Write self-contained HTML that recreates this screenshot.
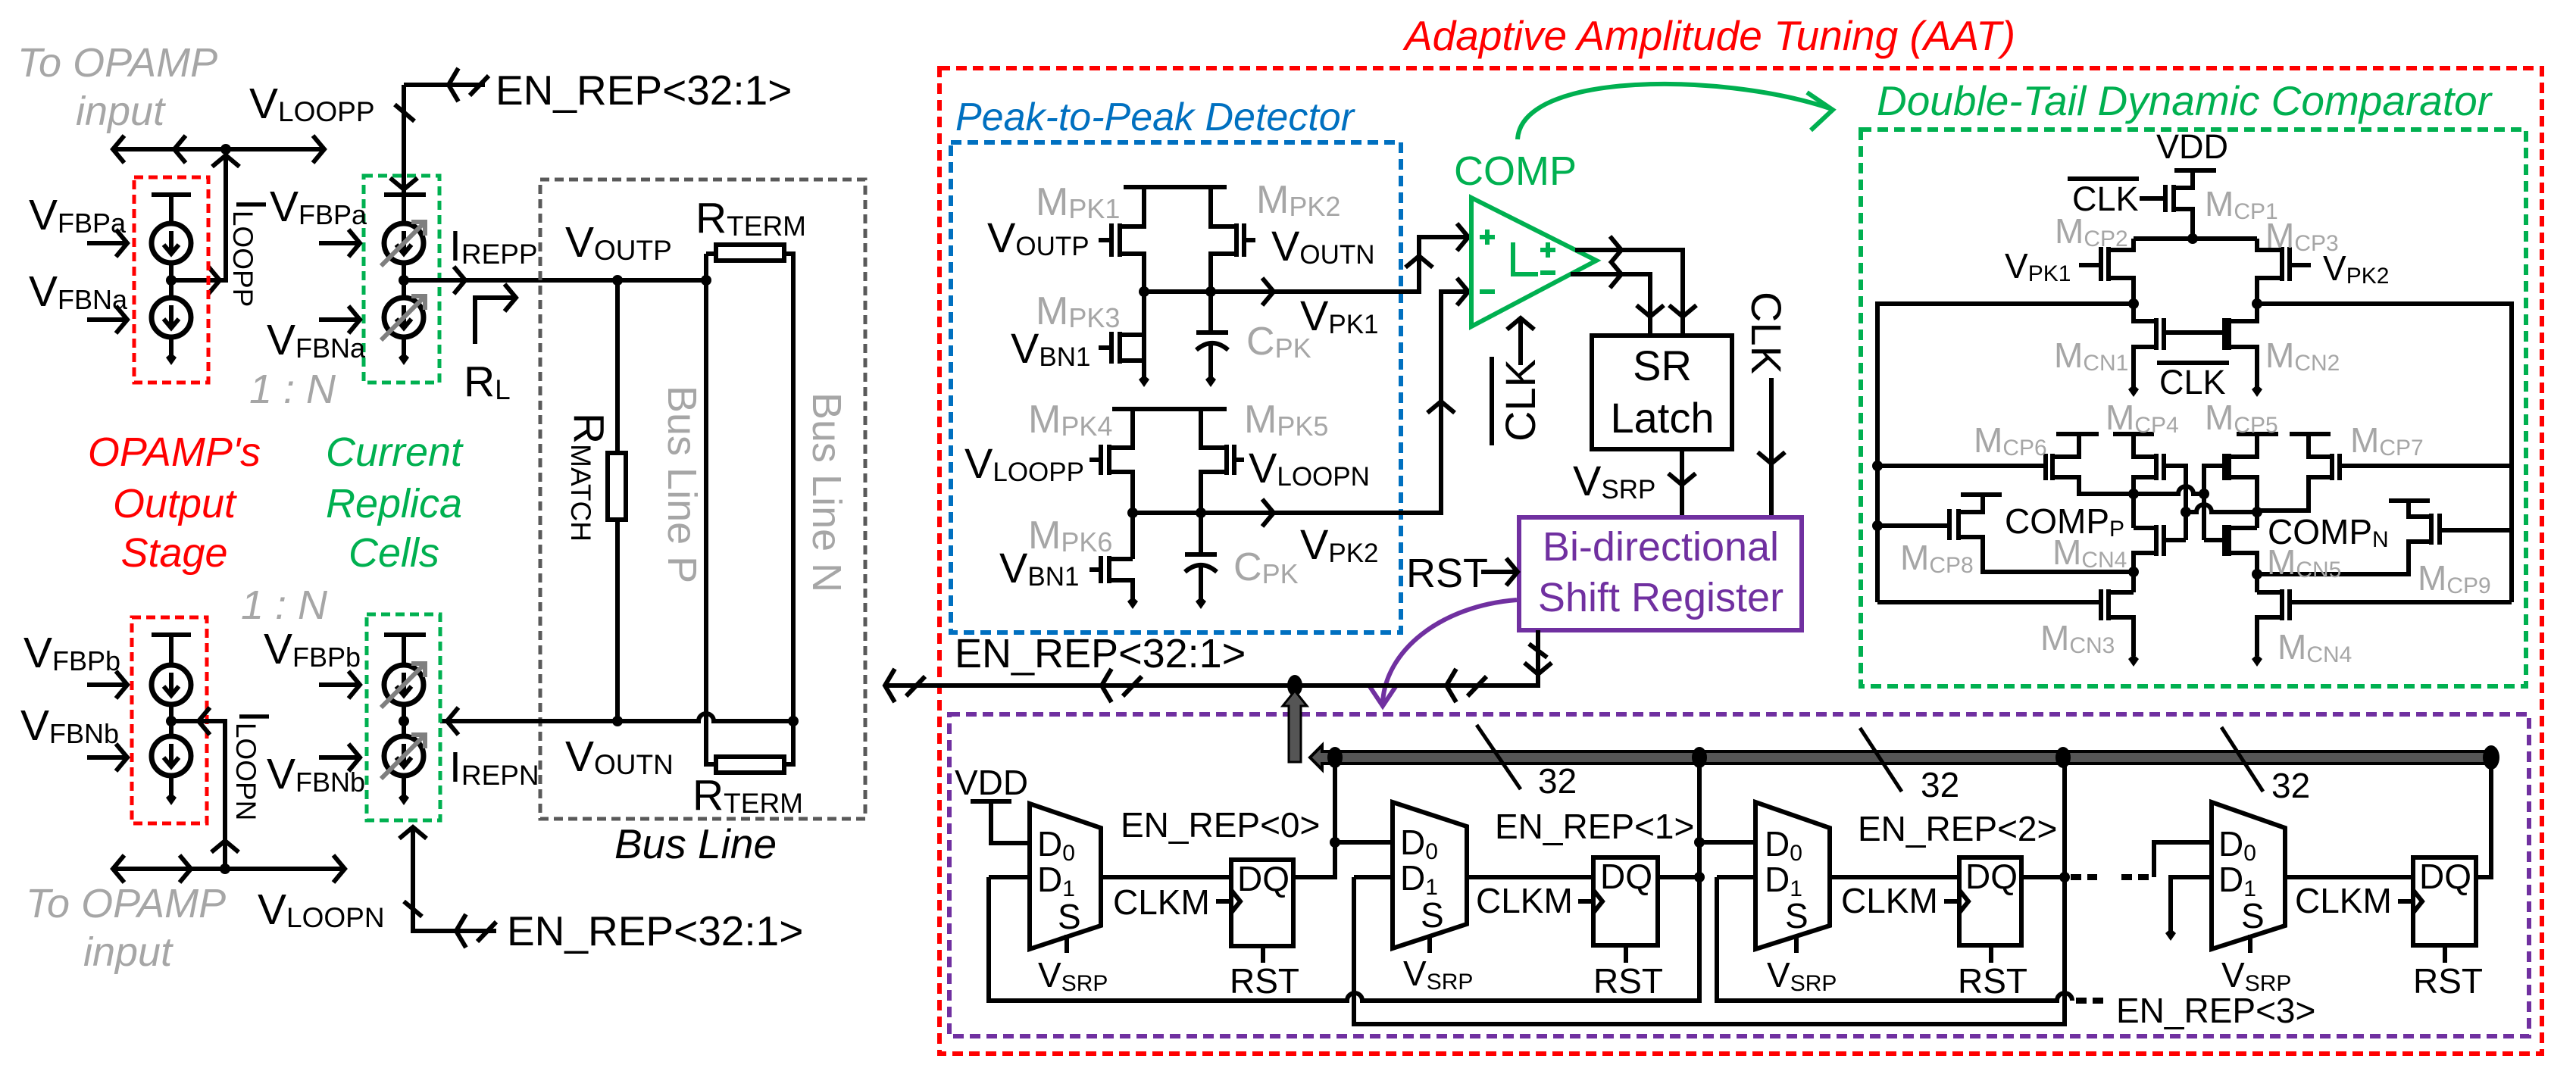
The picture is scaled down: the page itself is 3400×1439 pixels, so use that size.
<!DOCTYPE html>
<html><head><meta charset="utf-8"><style>
html,body{margin:0;padding:0;background:#fff;}
svg{display:block;}
text{font-family:"Liberation Sans",Arial,sans-serif;fill:#000;}
.w{stroke:#000;stroke-width:6;fill:none;}
.it{font-style:italic;}
.g{fill:#a6a6a6;}
</style></head><body>
<svg width="3400" height="1439" viewBox="0 0 3400 1439" xmlns="http://www.w3.org/2000/svg">
<defs>
<g id="cr"><path d="M-15,-18L0,0L-15,18" fill="none" stroke="#000" stroke-width="6"/></g>
<g id="bus"><path d="M-13,-22L0,0L-13,22M-28,-14L-53,12" fill="none" stroke="#000" stroke-width="6"/></g>
<g id="gnd"><path d="M0,8L-7,-2L0,-8L7,-2Z" fill="#000"/></g>
<g id="cs"><circle r="26" fill="none" stroke="#000" stroke-width="7"/><path d="M0,-16V14M-10,2L0,14L10,2" fill="none" stroke="#000" stroke-width="6"/></g>
<g id="csg"><circle r="26" fill="none" stroke="#000" stroke-width="7"/><path d="M0,-16V14M-10,2L0,14L10,2" fill="none" stroke="#000" stroke-width="6"/><path d="M-30,30L26,-26M10,-28L28,-28L28,-10" fill="none" stroke="#7f7f7f" stroke-width="6"/></g>
</defs>

<!-- ================= LEFT SECTION ================= -->
<text x="23" y="101" font-size="54" class="it g">To OPAMP</text>
<text x="100" y="165" font-size="54" class="it g">input</text>
<text x="329" y="156" font-size="57">V<tspan font-size="37" dy="4">LOOPP</tspan></text>
<path class="w" d="M149,197H428M298,197V370H226"/>
<circle cx="298" cy="197" r="7"/>
<use href="#cr" transform="translate(149,197) rotate(180)"/>
<use href="#cr" transform="translate(230,197) rotate(180)"/>
<use href="#cr" transform="translate(428,197)"/>
<use href="#cr" transform="translate(298,205) rotate(-90)"/>
<use href="#cr" transform="translate(290,370)"/>
<rect x="177" y="234" width="98" height="271" fill="none" stroke="#ff0000" stroke-width="5" stroke-dasharray="12 7"/>
<path class="w" d="M200,257H252M226,257V295M226,347V393M226,445V470"/>
<use href="#cs" transform="translate(226,321)"/><use href="#cs" transform="translate(226,419)"/>
<circle cx="226" cy="370" r="7"/><use href="#gnd" transform="translate(226,474)"/>
<text x="38" y="303" font-size="57">V<tspan font-size="36" dy="4">FBPa</tspan></text>
<text x="38" y="404" font-size="57">V<tspan font-size="36" dy="4">FBNa</tspan></text>
<path class="w" d="M115,321H166M115,422H166"/>
<use href="#cr" transform="translate(168,321)"/><use href="#cr" transform="translate(168,422)"/>
<text font-size="57" transform="translate(312,262) rotate(90)">I<tspan font-size="37" dy="4">LOOPP</tspan></text>

<!-- green top cell -->
<rect x="480" y="232" width="100" height="273" fill="none" stroke="#00b050" stroke-width="5" stroke-dasharray="12 7"/>
<path class="w" d="M507,257H562M533,112V257M533,257V295M533,347V393M533,445V470M533,112H640M521,138L547,160"/>
<use href="#cr" transform="translate(533,250) rotate(90)"/>
<use href="#bus" transform="translate(592,112) rotate(180)"/>
<use href="#csg" transform="translate(533,321)"/><use href="#csg" transform="translate(533,419)"/>
<circle cx="533" cy="370" r="7"/><use href="#gnd" transform="translate(533,474)"/>
<text x="654" y="138" font-size="55">EN_REP&lt;32:1&gt;</text>
<text x="356" y="292" font-size="57">V<tspan font-size="36" dy="4">FBPa</tspan></text>
<text x="352" y="468" font-size="57">V<tspan font-size="36" dy="4">FBNa</tspan></text>
<path class="w" d="M421,321H473M421,422H473"/>
<use href="#cr" transform="translate(475,321)"/><use href="#cr" transform="translate(475,422)"/>
<text x="593" y="344" font-size="57">I<tspan font-size="37" dy="4">REPP</tspan></text>
<path class="w" d="M533,370H932"/>
<use href="#cr" transform="translate(614,370)"/>
<path class="w" d="M627,454V393H679"/><use href="#cr" transform="translate(681,393)"/>
<text x="612" y="523" font-size="57">R<tspan font-size="37" dy="4">L</tspan></text>
<text x="329" y="532" font-size="54" class="it g">1 : N</text>

<text x="230" y="615" font-size="54" class="it" style="fill:#ff0000" text-anchor="middle">OPAMP's</text>
<text x="230" y="683" font-size="54" class="it" style="fill:#ff0000" text-anchor="middle">Output</text>
<text x="230" y="748" font-size="54" class="it" style="fill:#ff0000" text-anchor="middle">Stage</text>
<text x="520" y="615" font-size="54" class="it" style="fill:#00b050" text-anchor="middle">Current</text>
<text x="520" y="683" font-size="54" class="it" style="fill:#00b050" text-anchor="middle">Replica</text>
<text x="520" y="748" font-size="54" class="it" style="fill:#00b050" text-anchor="middle">Cells</text>
<text x="318" y="817" font-size="54" class="it g">1 : N</text>

<!-- bus line box -->
<rect x="713" y="237" width="429" height="844" fill="none" stroke="#595959" stroke-width="5" stroke-dasharray="12 7"/>
<text x="746" y="339" font-size="57">V<tspan font-size="37" dy="4">OUTP</tspan></text>
<text x="918" y="307" font-size="57">R<tspan font-size="37" dy="4">TERM</tspan></text>
<path class="w" d="M815,370V598M815,686V952M932,335V1009H945M932,335H945M1035,335H1047V1009H1035"/>
<rect x="802" y="598" width="24" height="88" fill="none" stroke="#000" stroke-width="6"/>
<rect x="945" y="323" width="90" height="21" fill="none" stroke="#000" stroke-width="6"/>
<rect x="945" y="999" width="90" height="21" fill="none" stroke="#000" stroke-width="6"/>
<path class="w" d="M581,952H922A10,10 0 0 1 942,952H1047"/>
<circle cx="815" cy="370" r="7"/><circle cx="932" cy="370" r="7"/><circle cx="815" cy="952" r="7"/><circle cx="1047" cy="952" r="7"/>
<text font-size="57" transform="translate(758,545) rotate(90)">R<tspan font-size="37" dy="4">MATCH</tspan></text>
<text font-size="54" class="g" transform="translate(882,509) rotate(90)">Bus Line P</text>
<text font-size="54" class="g" transform="translate(1073,518) rotate(90)">Bus Line N</text>
<text x="746" y="1018" font-size="57">V<tspan font-size="37" dy="4">OUTN</tspan></text>
<text x="593" y="1032" font-size="57">I<tspan font-size="37" dy="4">REPN</tspan></text>
<text x="914" y="1069" font-size="57">R<tspan font-size="37" dy="4">TERM</tspan></text>
<text x="811" y="1133" font-size="55" class="it">Bus Line</text>
<use href="#cr" transform="translate(590,952) rotate(180)"/>

<!-- bottom left -->
<rect x="174" y="815" width="99" height="272" fill="none" stroke="#ff0000" stroke-width="5" stroke-dasharray="12 7"/>
<path class="w" d="M200,838H252M226,838V878M226,930V972M226,1024V1050"/>
<use href="#cs" transform="translate(226,904)"/><use href="#cs" transform="translate(226,998)"/>
<circle cx="226" cy="952" r="7"/><use href="#gnd" transform="translate(226,1055)"/>
<text x="31" y="881" font-size="57">V<tspan font-size="36" dy="4">FBPb</tspan></text>
<text x="27" y="977" font-size="57">V<tspan font-size="36" dy="4">FBNb</tspan></text>
<path class="w" d="M115,904H166M115,1000H166"/>
<use href="#cr" transform="translate(168,904)"/><use href="#cr" transform="translate(168,1000)"/>
<path class="w" d="M226,952H297V1147M149,1147H455"/>
<circle cx="297" cy="1147" r="7"/>
<use href="#cr" transform="translate(262,952) rotate(180)"/>
<use href="#cr" transform="translate(297,1110) rotate(-90)"/>
<use href="#cr" transform="translate(149,1147) rotate(180)"/>
<use href="#cr" transform="translate(252,1147)"/>
<use href="#cr" transform="translate(455,1147)"/>
<text font-size="57" transform="translate(316,938) rotate(90)">I<tspan font-size="37" dy="4">LOOPN</tspan></text>
<text x="340" y="1220" font-size="57">V<tspan font-size="37" dy="4">LOOPN</tspan></text>
<text x="34" y="1211" font-size="54" class="it g">To OPAMP</text>
<text x="110" y="1275" font-size="54" class="it g">input</text>

<rect x="484" y="811" width="97" height="272" fill="none" stroke="#00b050" stroke-width="5" stroke-dasharray="12 7"/>
<path class="w" d="M507,838H562M533,838V878M533,930V972M533,1024V1050"/>
<use href="#csg" transform="translate(533,904)"/><use href="#csg" transform="translate(533,998)"/>
<circle cx="533" cy="952" r="7"/><use href="#gnd" transform="translate(533,1055)"/>
<text x="348" y="876" font-size="57">V<tspan font-size="36" dy="4">FBPb</tspan></text>
<text x="352" y="1041" font-size="57">V<tspan font-size="36" dy="4">FBNb</tspan></text>
<path class="w" d="M421,904H473M421,1000H473"/>
<use href="#cr" transform="translate(475,904)"/><use href="#cr" transform="translate(475,1000)"/>
<path class="w" d="M545,1095V1229H655M533,1190L557,1210"/>
<use href="#cr" transform="translate(545,1092) rotate(-90)"/>
<use href="#bus" transform="translate(602,1229) rotate(180)"/>
<text x="669" y="1248" font-size="55">EN_REP&lt;32:1&gt;</text>

<!-- ================= AAT ================= -->
<text x="1854" y="66" font-size="55" class="it" style="fill:#ff0000">Adaptive Amplitude Tuning (AAT)</text>
<rect x="1240" y="90" width="2115" height="1301" fill="none" stroke="#ff0000" stroke-width="6" stroke-dasharray="14 8"/>
<text x="1261" y="172" font-size="52" class="it" style="fill:#0070c0">Peak-to-Peak Detector</text>
<rect x="1255" y="188" width="594" height="647" fill="none" stroke="#0070c0" stroke-width="6" stroke-dasharray="14 8"/>

<!-- peak detector transistors -->
<path class="w" d="M1483,247H1619
M1510,247V299H1478M1478,295V339M1478,335H1510V476M1467,295V339M1467,317H1450
M1598,247V299H1632M1632,295V339M1632,335H1598V439M1642,295V339M1642,317H1657
M1510,442H1478M1478,438V480M1478,476H1510V500M1467,438V480M1467,459H1450
M1579,439H1621M1579,462Q1600,444 1621,462M1598,452V500
M1468,540H1619
M1495,540V591H1464M1464,587V627M1464,623H1495V738M1453,587V627M1453,607H1438
M1585,540V591H1619M1619,587V627M1619,623H1585V732M1629,587V627M1629,607H1642
M1495,738H1464M1464,734V770M1464,766H1495V792M1453,734V770M1453,752H1438
M1564,732H1606M1564,755Q1585,737 1606,755M1585,745V792"/>
<path class="w" d="M1510,385H1873V313H1942M1495,677H1902V385H1942"/>
<circle cx="1510" cy="385" r="7"/><circle cx="1598" cy="385" r="7"/>
<circle cx="1495" cy="677" r="7"/><circle cx="1585" cy="677" r="7"/>
<use href="#gnd" transform="translate(1510,503)"/><use href="#gnd" transform="translate(1598,503)"/>
<use href="#gnd" transform="translate(1495,796)"/><use href="#gnd" transform="translate(1585,796)"/>
<use href="#cr" transform="translate(1681,385)"/><use href="#cr" transform="translate(1681,677)"/>
<use href="#cr" transform="translate(1873,338) rotate(-90)"/><use href="#cr" transform="translate(1902,530) rotate(-90)"/>
<use href="#cr" transform="translate(1938,313)"/><use href="#cr" transform="translate(1938,385)"/>
<text x="1367" y="284" font-size="52" class="g">M<tspan font-size="36" dy="4">PK1</tspan></text>
<text x="1303" y="333" font-size="56">V<tspan font-size="35" dy="4">OUTP</tspan></text>
<text x="1658" y="281" font-size="52" class="g">M<tspan font-size="36" dy="4">PK2</tspan></text>
<text x="1678" y="344" font-size="56">V<tspan font-size="35" dy="4">OUTN</tspan></text>
<text x="1367" y="428" font-size="52" class="g">M<tspan font-size="36" dy="4">PK3</tspan></text>
<text x="1334" y="479" font-size="56">V<tspan font-size="35" dy="4">BN1</tspan></text>
<text x="1645" y="468" font-size="52" class="g">C<tspan font-size="36" dy="4">PK</tspan></text>
<text x="1716" y="436" font-size="56">V<tspan font-size="35" dy="4">PK1</tspan></text>
<text x="1357" y="571" font-size="52" class="g">M<tspan font-size="36" dy="4">PK4</tspan></text>
<text x="1273" y="631" font-size="56">V<tspan font-size="35" dy="4">LOOPP</tspan></text>
<text x="1642" y="571" font-size="52" class="g">M<tspan font-size="36" dy="4">PK5</tspan></text>
<text x="1648" y="637" font-size="56">V<tspan font-size="35" dy="4">LOOPN</tspan></text>
<text x="1357" y="724" font-size="52" class="g">M<tspan font-size="36" dy="4">PK6</tspan></text>
<text x="1319" y="769" font-size="56">V<tspan font-size="35" dy="4">BN1</tspan></text>
<text x="1628" y="766" font-size="52" class="g">C<tspan font-size="36" dy="4">PK</tspan></text>
<text x="1716" y="738" font-size="56">V<tspan font-size="35" dy="4">PK2</tspan></text>

<!-- comparator symbol -->
<text x="1919" y="244" font-size="54" style="fill:#00b050">COMP</text>
<path d="M1942,261L2107,344L1942,431Z" fill="none" stroke="#00b050" stroke-width="6"/>
<path d="M1953,313H1973M1963,303V323M1953,385H1973M1997,320V362H2030M2033,330H2053M2043,320V340M2033,360H2053" fill="none" stroke="#00b050" stroke-width="6"/>
<path d="M2003,184C2008,95 2270,95 2415,143" fill="none" stroke="#00b050" stroke-width="6"/>
<path d="M2385,122L2419,145L2390,172" fill="none" stroke="#00b050" stroke-width="6"/>
<path class="w" d="M2079,330H2221V442M2073,362H2178V442"/>
<use href="#cr" transform="translate(2140,330)"/><use href="#cr" transform="translate(2140,362)"/>
<use href="#cr" transform="translate(2221,418) rotate(90)"/><use href="#cr" transform="translate(2178,418) rotate(90)"/>
<path class="w" d="M2007,482V422"/><use href="#cr" transform="translate(2007,420) rotate(-90)"/>
<text font-size="56" transform="translate(2026,583) rotate(-90)">CLK</text>
<path class="w" d="M1969,471V588"/>
<rect x="2101" y="443" width="185" height="150" fill="none" stroke="#000" stroke-width="6"/>
<text x="2194" y="502" font-size="56" text-anchor="middle">SR</text>
<text x="2194" y="571" font-size="56" text-anchor="middle">Latch</text>
<path class="w" d="M2220,593V683M2338,499V683"/>
<use href="#cr" transform="translate(2220,640) rotate(90)"/><use href="#cr" transform="translate(2338,612) rotate(90)"/>
<text x="2076" y="654" font-size="56">V<tspan font-size="35" dy="4">SRP</tspan></text>
<text font-size="56" transform="translate(2312,385) rotate(90)">CLK</text>
<rect x="2005" y="683" width="373" height="149" fill="none" stroke="#7030a0" stroke-width="6"/>
<text x="2192" y="740" font-size="54" text-anchor="middle" style="fill:#7030a0">Bi-directional</text>
<text x="2192" y="807" font-size="54" text-anchor="middle" style="fill:#7030a0">Shift Register</text>
<text x="1856" y="775" font-size="54">RST</text>
<path class="w" d="M1955,755H2000"/><use href="#cr" transform="translate(2003,755)"/>
<path d="M2002,792C1900,800 1828,860 1825,928" fill="none" stroke="#7030a0" stroke-width="6"/>
<path d="M1807,905L1825,932L1843,905" fill="none" stroke="#7030a0" stroke-width="6"/>

<!-- EN_REP main bus -->
<text x="1260" y="881" font-size="54">EN_REP&lt;32:1&gt;</text>
<path class="w" d="M1168,905H2030V832M2018,850L2042,868"/>
<use href="#bus" transform="translate(1168,905) rotate(180)"/>
<use href="#bus" transform="translate(1454,905) rotate(180)"/>
<use href="#bus" transform="translate(1909,905) rotate(180)"/>
<use href="#cr" transform="translate(2030,890) rotate(90)"/>
<ellipse cx="1709" cy="905" rx="10" ry="14"/>

<!-- shift register box -->
<rect x="1253" y="943" width="2085" height="425" fill="none" stroke="#7030a0" stroke-width="6" stroke-dasharray="14 8"/>
<path d="M1701,1006V932H1693L1709,912L1725,932H1717V1006Z" fill="#555" stroke="#000" stroke-width="3"/>
<path d="M1745,992H3288V1008H1745V1016L1729,1000L1745,984Z" fill="#555" stroke="#000" stroke-width="4"/>
<ellipse cx="1762" cy="1000" rx="10" ry="14"/><ellipse cx="2243" cy="1000" rx="10" ry="14"/>
<ellipse cx="2723" cy="1000" rx="10" ry="14"/><ellipse cx="3288" cy="1000" rx="11" ry="16"/>
<path d="M1949,957L2007,1042M2455,961L2510,1045M2932,960L2987,1045" stroke="#000" stroke-width="5"/>
<text x="2030" y="1047" font-size="46">32</text>
<text x="2535" y="1052" font-size="46">32</text>
<text x="2998" y="1053" font-size="46">32</text>

<!-- stage 1 -->
<text x="1260" y="1049" font-size="46">VDD</text>
<path class="w" d="M1281,1058H1335M1308,1058V1113H1359M1305,1158H1359M1305,1158V1321H1778A10,10 0 0 1 1798,1321H2243V1000"/>
<path class="w" d="M1359,1061L1453,1093V1222L1359,1253Z"/>
<path class="w" d="M1453,1158H1625M1408,1234V1258M1605,1190H1625M1625,1175L1637,1190L1625,1205M1667,1249V1271M1707,1158H1762V1000M1762,1112H1838"/>
<rect x="1625" y="1135" width="82" height="114" fill="none" stroke="#000" stroke-width="6"/>
<circle cx="1762" cy="1112" r="7"/>
<text x="1369" y="1130" font-size="46">D<tspan font-size="30" dy="6">0</tspan></text>
<text x="1369" y="1177" font-size="46">D<tspan font-size="30" dy="6">1</tspan></text>
<text x="1396" y="1226" font-size="46">S</text>
<text x="1370" y="1303" font-size="46">V<tspan font-size="30" dy="5">SRP</tspan></text>
<text x="1469" y="1207" font-size="46">CLKM</text>
<text x="1633" y="1176" font-size="46">DQ</text>
<text x="1623" y="1311" font-size="46">RST</text>
<text x="1479" y="1105" font-size="46">EN_REP&lt;0&gt;</text>

<!-- stage 2 -->
<path class="w" d="M1787,1158H1838M1787,1158V1352H2725V1000"/>
<path class="w" d="M1838,1059L1936,1091V1220L1838,1252Z"/>
<path class="w" d="M1936,1158H2103M1887,1234V1258M2083,1190H2103M2103,1175L2115,1190L2103,1205M2146,1248V1271M2188,1158H2243M2243,1112H2317"/>
<rect x="2103" y="1132" width="85" height="116" fill="none" stroke="#000" stroke-width="6"/>
<circle cx="2243" cy="1112" r="7"/><circle cx="2243" cy="1158" r="7"/>
<text x="1848" y="1128" font-size="46">D<tspan font-size="30" dy="6">0</tspan></text>
<text x="1848" y="1175" font-size="46">D<tspan font-size="30" dy="6">1</tspan></text>
<text x="1875" y="1224" font-size="46">S</text>
<text x="1852" y="1301" font-size="46">V<tspan font-size="30" dy="5">SRP</tspan></text>
<text x="1948" y="1205" font-size="46">CLKM</text>
<text x="2112" y="1173" font-size="46">DQ</text>
<text x="2103" y="1311" font-size="46">RST</text>
<text x="1973" y="1107" font-size="46">EN_REP&lt;1&gt;</text>

<!-- stage 3 -->
<path class="w" d="M2266,1158H2317M2266,1158V1321H2715A10,10 0 0 1 2735,1321"/>
<path d="M2740,1321H2782M2733,1158H2768M2800,1158H2843" stroke="#000" stroke-width="8" stroke-dasharray="14 8" fill="none"/>
<path class="w" d="M2317,1059L2415,1093V1222L2317,1253Z"/>
<path class="w" d="M2415,1158H2586M2371,1234V1258M2566,1190H2586M2586,1175L2598,1190L2586,1205M2628,1248V1271M2668,1158H2725"/>
<rect x="2586" y="1132" width="82" height="116" fill="none" stroke="#000" stroke-width="6"/>
<circle cx="2725" cy="1158" r="7"/>
<text x="2329" y="1130" font-size="46">D<tspan font-size="30" dy="6">0</tspan></text>
<text x="2329" y="1177" font-size="46">D<tspan font-size="30" dy="6">1</tspan></text>
<text x="2356" y="1225" font-size="46">S</text>
<text x="2332" y="1303" font-size="46">V<tspan font-size="30" dy="5">SRP</tspan></text>
<text x="2430" y="1205" font-size="46">CLKM</text>
<text x="2594" y="1173" font-size="46">DQ</text>
<text x="2584" y="1311" font-size="46">RST</text>
<text x="2452" y="1110" font-size="46">EN_REP&lt;2&gt;</text>
<text x="2793" y="1350" font-size="46">EN_REP&lt;3&gt;</text>

<!-- stage 4 -->
<path class="w" d="M2843,1158V1112H2919M2865,1230V1158H2919"/>
<use href="#gnd" transform="translate(2865,1234)"/>
<path class="w" d="M2919,1059L3016,1093V1222L2919,1253Z"/>
<path class="w" d="M3016,1158H3185M2970,1234V1258M3165,1190H3185M3185,1175L3197,1190L3185,1205M3227,1248V1271M3268,1158H3288V1000"/>
<rect x="3185" y="1132" width="83" height="116" fill="none" stroke="#000" stroke-width="6"/>
<text x="2928" y="1130" font-size="46">D<tspan font-size="30" dy="6">0</tspan></text>
<text x="2928" y="1177" font-size="46">D<tspan font-size="30" dy="6">1</tspan></text>
<text x="2958" y="1225" font-size="46">S</text>
<text x="2932" y="1303" font-size="46">V<tspan font-size="30" dy="5">SRP</tspan></text>
<text x="3029" y="1205" font-size="46">CLKM</text>
<text x="3193" y="1173" font-size="46">DQ</text>
<text x="3185" y="1311" font-size="46">RST</text>

<!-- ================= DOUBLE-TAIL COMPARATOR ================= -->
<text x="2477" y="152" font-size="55" class="it" style="fill:#00b050">Double-Tail Dynamic Comparator</text>
<rect x="2456" y="171" width="878" height="735" fill="none" stroke="#00b050" stroke-width="6" stroke-dasharray="14 8"/>
<text x="2846" y="209" font-size="45">VDD</text>
<path class="w" d="M2870,225H2925
M2894,225V248H2869M2869,244V280M2869,276H2894V315M2858,244V280M2858,262H2824
M2816,315H2979
M2816,315V330H2783M2783,326V371M2783,367H2816V401M2773,326V371M2773,350H2744
M2979,315V330H3012M3012,326V371M3012,367H2979V401M3022,326V371M3022,350H3050
M2478,795V401H2816M2979,401H3315V795
M2816,401V424H2846M2846,420V462M2846,458H2816V512M2856,420V462M2856,439H2936
M2979,401V424H2942M2942,420V462M2942,458H2979V512M2936,420V462
M2714,573H2770M2789,573H2843M2952,573H3007M3022,573H3076M2588,653H2642M3153,661H3207
M2744,573V603H2709M2709,599V634M2709,630H2744V652H2816M2700,599V634M2700,615H2478
M2816,573V603H2846M2846,599V634M2846,630H2816V697M2856,599V634M2856,615H2885V713
M2979,573V603H2942M2942,599V634M2942,630H2979V697M2936,599V634M2936,615H2909V713
M3047,573V603H3078M3078,599V634M3078,630H3047V674H2979M3088,599V634M3088,615H3315
M2816,697H2846M2846,693V734M2846,730H2816V782M2856,693V734M2856,713H2885
M2979,697H2942M2942,693V734M2942,730H2979V782M2936,693V734M2936,713H2909
M2816,652H2875A10,10 0 0 1 2895,652H2909
M2885,676H2899A10,10 0 0 1 2919,676H2979
M2617,653V676H2585M2585,672V713M2585,709H2617V755H2816M2573,672V713M2573,694H2478
M3179,661V682H3209M3209,678V719M3209,715H3179V758H2979M3220,678V719M3220,700H3315
M2816,782H2783M2783,778V819M2783,815H2816V866M2773,778V819M2773,795H2478
M2979,782H3012M3012,778V819M3012,815H2979V866M3022,778V819M3022,795H3315"/>
<circle cx="2894" cy="315" r="7"/><circle cx="2816" cy="401" r="7"/><circle cx="2979" cy="401" r="7"/>
<circle cx="2478" cy="615" r="7"/><circle cx="2478" cy="694" r="7"/>
<circle cx="2816" cy="652" r="7"/><circle cx="2979" cy="676" r="7"/>
<circle cx="2885" cy="676" r="7"/><circle cx="2909" cy="652" r="7"/>
<circle cx="2816" cy="755" r="7"/><circle cx="2979" cy="758" r="7"/>
<use href="#gnd" transform="translate(2816,516)"/><use href="#gnd" transform="translate(2979,516)"/>
<use href="#gnd" transform="translate(2816,872)"/><use href="#gnd" transform="translate(2979,872)"/>
<text x="2735" y="278" font-size="45">CLK</text>
<path class="w" d="M2729,236H2823"/>
<text x="2910" y="285" font-size="46" class="g">M<tspan font-size="30" dy="4">CP1</tspan></text>
<text x="2712" y="321" font-size="46" class="g">M<tspan font-size="30" dy="4">CP2</tspan></text>
<text x="2990" y="327" font-size="46" class="g">M<tspan font-size="30" dy="4">CP3</tspan></text>
<text x="2646" y="367" font-size="46">V<tspan font-size="30" dy="4">PK1</tspan></text>
<text x="3066" y="370" font-size="46">V<tspan font-size="30" dy="4">PK2</tspan></text>
<text x="2711" y="485" font-size="46" class="g">M<tspan font-size="30" dy="4">CN1</tspan></text>
<text x="2990" y="485" font-size="46" class="g">M<tspan font-size="30" dy="4">CN2</tspan></text>
<text x="2850" y="520" font-size="45">CLK</text>
<path class="w" d="M2847,479H2942"/>
<text x="2779" y="567" font-size="46" class="g">M<tspan font-size="30" dy="4">CP4</tspan></text>
<text x="2910" y="567" font-size="46" class="g">M<tspan font-size="30" dy="4">CP5</tspan></text>
<text x="2605" y="597" font-size="46" class="g">M<tspan font-size="30" dy="4">CP6</tspan></text>
<text x="3102" y="597" font-size="46" class="g">M<tspan font-size="30" dy="4">CP7</tspan></text>
<text x="2646" y="704" font-size="46">COMP<tspan font-size="30" dy="4">P</tspan></text>
<text x="2993" y="718" font-size="46">COMP<tspan font-size="30" dy="4">N</tspan></text>
<text x="2508" y="752" font-size="46" class="g">M<tspan font-size="30" dy="4">CP8</tspan></text>
<text x="2709" y="745" font-size="46" class="g">M<tspan font-size="30" dy="4">CN4</tspan></text>
<text x="2992" y="758" font-size="46" class="g">M<tspan font-size="30" dy="4">CN5</tspan></text>
<text x="3191" y="779" font-size="46" class="g">M<tspan font-size="30" dy="4">CP9</tspan></text>
<text x="2693" y="858" font-size="46" class="g">M<tspan font-size="30" dy="4">CN3</tspan></text>
<text x="3006" y="870" font-size="46" class="g">M<tspan font-size="30" dy="4">CN4</tspan></text>
</svg>
</body></html>
